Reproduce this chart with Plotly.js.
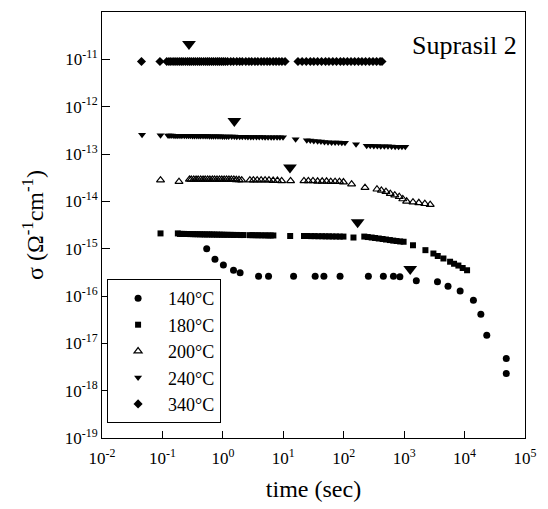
<!DOCTYPE html>
<html><head><meta charset="utf-8">
<script src="https://cdn.plot.ly/plotly-3.0.1.min.js"></script>
<style>body{margin:0;background:#fff}#c{width:548px;height:509px}</style>
</head><body><div id="c"></div>
<script>
// 140 °C (filled circles)
const x140 = [0.54, 0.74, 1.02, 1.5, 1.93, 3.9, 5.7, 14.8, 33.7, 47,
              87, 256, 453, 665, 850, 1590, 3560, 5320, 8450, 14000,
              18600, 23300, 49000, 49000];
const y140 = [1.0e-15, 6.0e-16, 4.5e-16, 3.5e-16, 3.1e-16, 2.6e-16, 2.6e-16, 2.6e-16, 2.6e-16, 2.6e-16,
              2.6e-16, 2.6e-16, 2.6e-16, 2.6e-16, 2.55e-16, 2.1e-16, 2.0e-16, 1.6e-16, 1.28e-16, 8.1e-17,
              4.1e-17, 1.48e-17, 4.8e-18, 2.3e-18];

// 180 °C (filled squares)
const x180 = [0.093, 0.18, 0.195, 0.21, 0.23, 0.25, 0.27, 0.29, 0.32, 0.35,
              0.38, 0.42, 0.46, 0.5, 0.55, 0.6, 0.66, 0.72, 0.8, 0.88,
              0.97, 1.07, 1.2, 1.35, 1.5, 1.7, 1.95, 2.2, 2.8, 3.1,
              3.5, 3.9, 4.4, 5.0, 5.6, 6.2, 6.85, 13, 22, 25,
              29, 33, 38, 44, 50, 57, 65, 75, 86, 99,
              145, 219, 250, 290, 330, 380, 440, 500, 580, 660,
              750, 860, 980, 1400, 2250, 3050, 3600, 4470, 5760, 6700,
              7900, 9300, 11000];
const y180 = [2.1e-15, 2.1e-15, 2.05e-15, 2.05e-15, 2.05e-15, 2.04e-15, 2.04e-15, 2.03e-15, 2.03e-15, 2.02e-15,
              2.02e-15, 2.01e-15, 2.01e-15, 2.0e-15, 2.0e-15, 2.0e-15, 1.99e-15, 1.99e-15, 1.98e-15, 1.98e-15,
              1.97e-15, 1.97e-15, 1.96e-15, 1.96e-15, 1.95e-15, 1.95e-15, 1.94e-15, 1.94e-15, 1.93e-15, 1.93e-15,
              1.92e-15, 1.92e-15, 1.91e-15, 1.91e-15, 1.9e-15, 1.9e-15, 1.9e-15, 1.85e-15, 1.85e-15, 1.85e-15,
              1.84e-15, 1.84e-15, 1.83e-15, 1.83e-15, 1.82e-15, 1.82e-15, 1.81e-15, 1.81e-15, 1.8e-15, 1.8e-15,
              1.72e-15, 1.8e-15, 1.76e-15, 1.72e-15, 1.68e-15, 1.64e-15, 1.6e-15, 1.56e-15, 1.52e-15, 1.48e-15,
              1.45e-15, 1.42e-15, 1.4e-15, 1.18e-15, 9.3e-16, 7.9e-16, 7.0e-16, 6.2e-16, 5.3e-16, 4.8e-16,
              4.4e-16, 3.9e-16, 3.5e-16];

// 200 °C (open triangles)
const x200 = [0.093, 0.188, 0.28, 0.3, 0.33, 0.36, 0.39, 0.43, 0.47, 0.51,
              0.56, 0.61, 0.67, 0.73, 0.8, 0.88, 0.96, 1.05, 1.15, 1.26,
              1.38, 1.52, 1.67, 1.85, 2.05, 2.8, 3.2, 3.7, 4.3, 5.0,
              5.8, 6.8, 8.0, 9.4, 13.2, 22, 26, 31, 37, 44,
              52, 61, 72, 85, 99, 135, 225, 355, 420, 500,
              590, 700, 830, 950, 1100, 1400, 1750, 2200, 2700];
const y200 = [2.8e-14, 2.6e-14, 2.9e-14, 2.9e-14, 2.9e-14, 2.9e-14, 2.9e-14, 2.9e-14, 2.9e-14, 2.9e-14,
              2.9e-14, 2.9e-14, 2.9e-14, 2.9e-14, 2.9e-14, 2.9e-14, 2.9e-14, 2.9e-14, 2.9e-14, 2.9e-14,
              2.9e-14, 2.9e-14, 2.85e-14, 2.85e-14, 2.8e-14, 2.8e-14, 2.8e-14, 2.8e-14, 2.8e-14, 2.8e-14,
              2.8e-14, 2.75e-14, 2.75e-14, 2.7e-14, 2.7e-14, 2.7e-14, 2.7e-14, 2.7e-14, 2.65e-14, 2.65e-14,
              2.65e-14, 2.6e-14, 2.6e-14, 2.6e-14, 2.55e-14, 2.3e-14, 1.95e-14, 1.8e-14, 1.7e-14, 1.6e-14,
              1.45e-14, 1.35e-14, 1.25e-14, 1.12e-14, 1.0e-14, 9.6e-15, 9.3e-15, 8.9e-15, 8.5e-15];

// 240 °C (filled down-triangles)
const x240 = [0.046, 0.093, 0.124, 0.133, 0.143, 0.155, 0.167, 0.18, 0.195, 0.21,
              0.23, 0.25, 0.27, 0.29, 0.315, 0.34, 0.37, 0.4, 0.43, 0.47,
              0.51, 0.55, 0.6, 0.65, 0.7, 0.76, 0.83, 0.9, 0.98, 1.06,
              1.15, 1.25, 1.4, 1.55, 1.7, 1.9, 2.1, 2.35, 2.6, 2.9,
              3.2, 3.6, 4.0, 4.5, 5.0, 5.6, 6.3, 7.0, 7.9, 8.8,
              9.9, 16, 24.5, 28, 32, 37, 42, 48, 55, 63,
              72, 82, 93, 105, 160, 240, 275, 315, 360, 410,
              470, 540, 620, 710, 810, 920, 1045];
const y240 = [2.55e-13, 2.5e-13, 2.45e-13, 2.45e-13, 2.45e-13, 2.44e-13, 2.44e-13, 2.44e-13, 2.43e-13, 2.43e-13,
              2.43e-13, 2.42e-13, 2.42e-13, 2.42e-13, 2.41e-13, 2.41e-13, 2.41e-13, 2.4e-13, 2.4e-13, 2.4e-13,
              2.39e-13, 2.39e-13, 2.38e-13, 2.38e-13, 2.37e-13, 2.37e-13, 2.36e-13, 2.36e-13, 2.35e-13, 2.35e-13,
              2.34e-13, 2.34e-13, 2.33e-13, 2.33e-13, 2.32e-13, 2.32e-13, 2.31e-13, 2.31e-13, 2.3e-13, 2.3e-13,
              2.29e-13, 2.29e-13, 2.28e-13, 2.28e-13, 2.27e-13, 2.27e-13, 2.26e-13, 2.26e-13, 2.25e-13, 2.25e-13,
              2.25e-13, 2.05e-13, 1.95e-13, 1.92e-13, 1.89e-13, 1.86e-13, 1.83e-13, 1.8e-13, 1.78e-13, 1.76e-13,
              1.75e-13, 1.74e-13, 1.73e-13, 1.73e-13, 1.6e-13, 1.5e-13, 1.49e-13, 1.48e-13, 1.47e-13, 1.46e-13,
              1.45e-13, 1.45e-13, 1.44e-13, 1.43e-13, 1.43e-13, 1.42e-13, 1.42e-13];

// 340 °C (filled diamonds)
const x340 = [0.045, 0.091, 0.118, 0.128, 0.138, 0.15, 0.162, 0.175, 0.19, 0.205,
              0.22, 0.24, 0.26, 0.28, 0.3, 0.325, 0.35, 0.38, 0.41, 0.44,
              0.48, 0.52, 0.56, 0.6, 0.65, 0.7, 0.76, 0.82, 0.88, 0.95,
              1.02, 1.1, 1.2, 1.35, 1.5, 1.7, 1.9, 2.1, 2.4, 2.7,
              3.0, 3.4, 3.8, 4.3, 4.8, 5.4, 6.0, 6.8, 7.6, 8.5,
              9.5, 10.7, 17.5, 20.5, 24, 28, 32, 37, 43, 50,
              57, 66, 76, 88, 100, 115, 132, 152, 175, 200,
              230, 265, 305, 350, 400, 430];
const y340 = [9.0e-12, 9.0e-12, 9.0e-12, 9.0e-12, 9.0e-12, 9.0e-12, 9.0e-12, 9.0e-12, 9.0e-12, 9.0e-12,
              9.0e-12, 9.0e-12, 9.0e-12, 9.0e-12, 9.0e-12, 9.0e-12, 9.0e-12, 9.0e-12, 9.0e-12, 9.0e-12,
              9.0e-12, 9.0e-12, 9.0e-12, 9.0e-12, 9.0e-12, 9.0e-12, 9.0e-12, 9.0e-12, 9.0e-12, 9.0e-12,
              9.0e-12, 9.0e-12, 9.0e-12, 9.0e-12, 9.0e-12, 9.0e-12, 9.0e-12, 9.0e-12, 9.0e-12, 9.0e-12,
              9.0e-12, 9.0e-12, 9.0e-12, 9.0e-12, 9.0e-12, 9.0e-12, 9.0e-12, 9.0e-12, 9.0e-12, 9.0e-12,
              9.0e-12, 9.0e-12, 9.0e-12, 9.0e-12, 9.0e-12, 9.0e-12, 9.0e-12, 9.0e-12, 9.0e-12, 9.0e-12,
              9.0e-12, 9.0e-12, 9.0e-12, 9.0e-12, 9.0e-12, 9.0e-12, 9.0e-12, 9.0e-12, 9.0e-12, 9.0e-12,
              9.0e-12, 9.0e-12, 9.0e-12, 9.0e-12, 9.0e-12, 9.0e-12];

// arrow markers (transition points)
const xArrow = [0.275, 1.55, 12.9, 170, 1260];
const yArrow = [2.1e-11, 5.0e-13, 5.2e-14, 3.6e-15, 3.7e-16];

// labels
const seriesNames = ['140°C', '180°C', '200°C', '240°C', '340°C'];
const yTickVals = [1e-19,1e-18,1e-17,1e-16,1e-15,1e-14,1e-13,1e-12,1e-11,1e-10];
const yTickText = ['10<sup>-19</sup>','10<sup>-18</sup>','10<sup>-17</sup>','10<sup>-16</sup>','10<sup>-15</sup>',
                   '10<sup>-14</sup>','10<sup>-13</sup>','10<sup>-12</sup>','10<sup>-11</sup>','10<sup>-10</sup>'];
const xTickVals = [1e-2,1e-1,1,10,100,1e3,1e4,1e5];
const xTickText = ['10<sup>-2</sup>','10<sup>-1</sup>','10<sup>0</sup>','10<sup>1</sup>','10<sup>2</sup>',
                   '10<sup>3</sup>','10<sup>4</sup>','10<sup>5</sup>'];

const F = 'Liberation Serif, DejaVu Serif, serif';
const mk = (x, y, name, sym, size) => ({
  x, y, name, type: 'scatter', mode: 'markers', legendgroup: name,
  marker: {symbol: sym, size, color: '#000', line: {width: 0}}
});

const traces = [
  mk(x140, y140, seriesNames[0], 'circle', 7),
  mk(x180, y180, seriesNames[1], 'square', 6),
  {x: x200, y: y200, name: seriesNames[2], type: 'scatter', mode: 'markers', legendgroup: seriesNames[2],
   marker: {symbol: 'triangle-up-open', size: 7, color: '#000', line: {width: 1.2, color: '#000'}}},
  mk(x240, y240, seriesNames[3], 'triangle-down', 7),
  mk(x340, y340, seriesNames[4], 'diamond', 7),
  {x: xArrow, y: yArrow, type: 'scatter', mode: 'markers', showlegend: false,
   marker: {symbol: 'triangle-down', size: 12, color: '#000'}}
];

const layout = {
  width: 548, height: 509,
  margin: {l: 102, r: 23, t: 12, b: 71},
  paper_bgcolor: '#fff', plot_bgcolor: '#fff',
  font: {family: F, color: '#000', size: 16},
  showlegend: true,
  legend: {x: 0.012, y: 0.373, xanchor: 'left', yanchor: 'top',
           bgcolor: '#fff', bordercolor: '#000', borderwidth: 1,
           font: {family: F, size: 18}, tracegroupgap: 0, itemwidth: 50, itemsizing: 'trace'},
  xaxis: {type: 'log', range: [-2, 5], tickvals: xTickVals, ticktext: xTickText,
          ticks: 'inside', ticklen: 7, tickcolor: '#000', showgrid: false, zeroline: false,
          showline: true, linecolor: '#000', linewidth: 1, mirror: true,
          tickfont: {family: F, size: 17}, ticklabelstandoff: 5,
          title: {text: 'time (sec)', font: {family: F, size: 24}, standoff: 12}},
  yaxis: {type: 'log', range: [-19, -10], tickvals: yTickVals, ticktext: yTickText,
          ticks: 'inside', ticklen: 8, tickcolor: '#000', showgrid: false, zeroline: false,
          showline: true, linecolor: '#000', linewidth: 1, mirror: true,
          tickfont: {family: F, size: 17},
          title: {text: 'σ (Ω<sup>-1</sup>cm<sup>-1</sup>)', font: {family: F, size: 24}, standoff: 14}},
  annotations: [{text: 'Suprasil 2', xref: 'paper', yref: 'paper', x: 0.985, y: 0.922,
                 xanchor: 'right', yanchor: 'middle', showarrow: false,
                 font: {family: F, size: 26}}]
};

Plotly.newPlot('c', traces, layout, {displayModeBar: false, staticPlot: true});
</script></body></html>
